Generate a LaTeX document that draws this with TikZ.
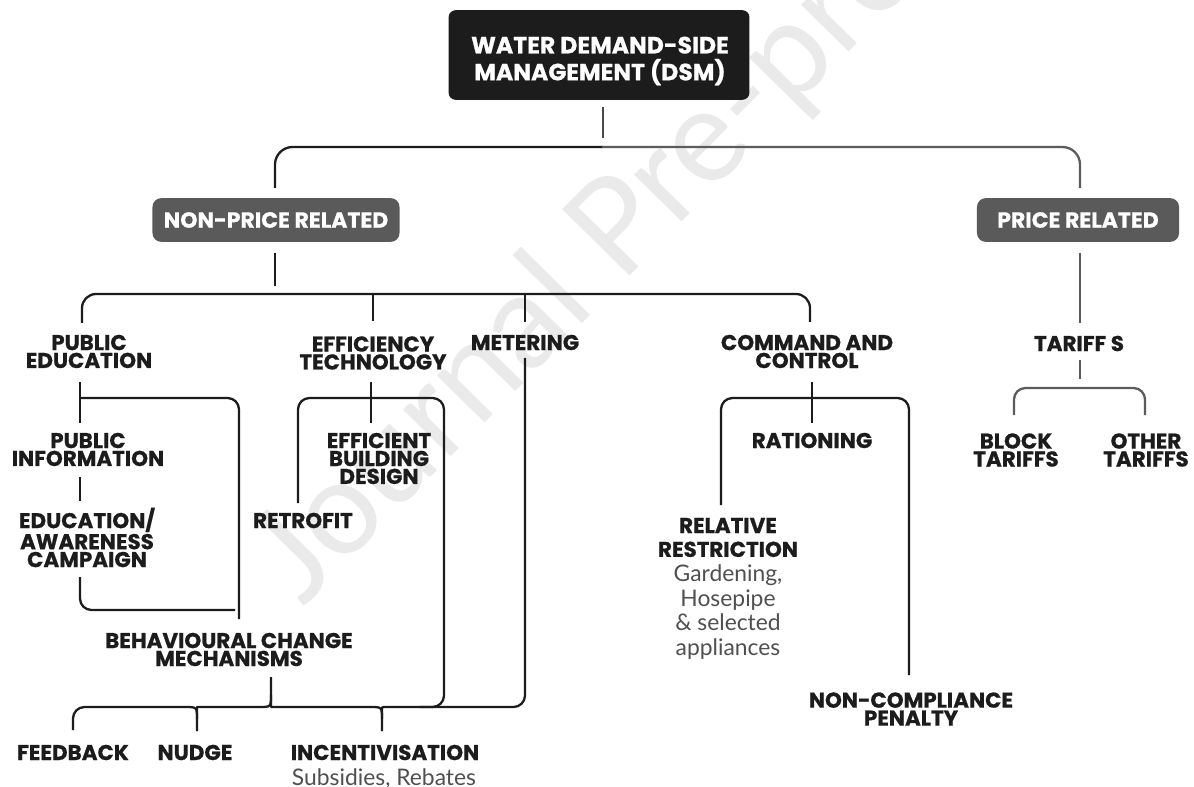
\documentclass[tikz,border=0pt]{standalone}
\usepackage{fontspec}
\setmainfont{Poppins}[BoldFeatures={FakeBold=0.7}]
\newfontfamily\lightfont{Lato}
\definecolor{ink}{HTML}{1C1C1C}
\definecolor{boxgray}{HTML}{5A5A5A}
\definecolor{linegray}{HTML}{5C5C5C}
\definecolor{wm}{HTML}{EAEAEA}
\definecolor{subtext}{HTML}{505050}
\begin{document}
\begin{tikzpicture}[x=0.02cm,y=-0.02cm,
  lbl/.style={font=\fontsize{12.2}{10.2}\selectfont\bfseries, text=ink, align=center, inner sep=0pt},
  rrlbl/.style={lbl, font=\fontsize{12.2}{13.6}\selectfont\bfseries},
  sub/.style={font=\lightfont\fontsize{13}{13.9}\selectfont, text=subtext, align=center, inner sep=0pt},
  conn/.style={draw=ink, line width=1.3pt, rounded corners=6.5pt, line join=round},
  gconn/.style={conn, draw=linegray},
  rootbox/.style={fill=ink, rounded corners=4pt, minimum width=171.2pt, minimum height=51pt, inner sep=0pt},
  catbox/.style={fill=boxgray, rounded corners=5pt, minimum height=24.9pt, inner sep=0pt, text=white,
    font=\fontsize{12.5}{12}\selectfont\bfseries},
]
\useasboundingbox (0,0) rectangle (1194,787);
\fill[white] (0,0) rectangle (1194,787);

% watermark
\begin{scope}
\clip (0,0) rectangle (1194,787);
\node[rotate=45.5, text=wm, font=\lightfont\fontsize{75}{75}\selectfont, inner sep=0pt] (wmark) at (630,222) {Journal Pre-proof};
\end{scope}

% boxes
\node[rootbox] (root) at (599,55) {};
\node[lbl, text=white, font=\fontsize{13.4}{15.3}\selectfont\bfseries] (roottxt) at (600,61) {WATER DEMAND-SIDE\\MANAGEMENT (DSM)};
\node[catbox, minimum width=140.6pt] (np) at (276,220) {NON-PRICE RELATED};
\node[catbox, minimum width=115pt] (pr) at (1078,220) {PRICE RELATED};

% labels
\node[lbl] (pe) at (89,351.5) {PUBLIC\\EDUCATION};
\node[lbl] (et) at (373,353) {EFFICIENCY\\TECHNOLOGY};
\node[lbl] (me) at (525,342.5) {METERING};
\node[lbl] (cc) at (807,351.5) {COMMAND AND\\CONTROL};
\node[lbl] (ta) at (1079,343.5) {TARIFF S};
\node[lbl] (pi) at (88,449.5) {PUBLIC\\INFORMATION};
\node[lbl] (eac) at (87,537.5) {EDUCATION/\\AWARENESS\\CAMPAIGN};
\node[lbl] (ebd) at (379,458.5) {EFFICIENT\\BUILDING\\DESIGN};
\node[lbl] (rf) at (303,520.5) {RETROFIT};
\node[lbl] (bcm) at (229,649.5) {BEHAVIOURAL CHANGE\\MECHANISMS};
\node[lbl] (fb) at (73,752.5) {FEEDBACK};
\node[lbl] (nu) at (195,752.5) {NUDGE};
\node[lbl] (inc) at (385,752.5) {INCENTIVISATION};
\node[sub, anchor=base] (incsub) at (384,785) {Subsidies, Rebates};
\node[lbl] (ra) at (812,440.5) {RATIONING};
\node[rrlbl] (rr) at (728,537.5) {RELATIVE\\RESTRICTION};
\node[sub] (rrsub) at (728,612) {Gardening,\\Hosepipe\\\& selected\\appliances};
\node[lbl] (bt) at (1016,450) {BLOCK\\TARIFFS};
\node[lbl] (ot) at (1146,450) {OTHER\\TARIFFS};
\node[lbl] (ncp) at (911,709) {NON-COMPLIANCE\\PENALTY};

% top level
\draw[conn, draw=ink!80] (603,107) -- (603,138);
\draw[conn, rounded corners=10pt] (603,147) -- (275,147) -- (275,188);
\draw[gconn, rounded corners=10pt] (602,147) -- (1080,147) -- (1080,188);

% non-price branch
\draw[conn] (275,253) -- (275,286);
\draw[conn, rounded corners=8pt] (82,323) -- (82,294) -- (810,294) -- (810,322);
\draw[conn] (373,294) -- (373,321);
\draw[conn] (525,294) -- (525,322);

% public education
\draw[conn] (80,382) -- (80,423);
\draw[conn] (80,398) -- (239,398) -- (239,619);
\draw[conn] (80,477) -- (80,501);
\draw[conn] (80,577) -- (80,610) -- (235,610);

% efficiency technology
\draw[conn] (371,382) -- (371,423);
\draw[conn] (298,503) -- (298,398) -- (444,398) -- (444,707) -- (420,707);

% metering and bottom rail
\draw[conn] (525,358) -- (525,707) -- (394,707);
\draw[conn] (394,707) .. controls (382,707) .. (382,719) -- (382,730);
\draw[conn] (370,707) .. controls (382,707) .. (382,719);
\draw[conn] (370,707) -- (283,707) .. controls (271,707) .. (271,695) -- (271,677);
\draw[conn] (259,707) .. controls (271,707) .. (271,695);
\draw[conn] (259,707) -- (209,707) .. controls (197,707) .. (197,719) -- (197,730);
\draw[conn] (185,707) .. controls (197,707) .. (197,719);
\draw[conn] (185,707) -- (73,707) -- (73,730);

% command and control
\draw[conn] (812,382) -- (812,423);
\draw[conn] (721,505) -- (721,398) -- (909,398) -- (909,675);

% price branch
\draw[gconn] (1080,253) -- (1080,323);
\draw[gconn] (1080,360) -- (1080,379);
\draw[gconn] (1014,415) -- (1014,388) -- (1145,388) -- (1145,415);
\end{tikzpicture}
\end{document}
